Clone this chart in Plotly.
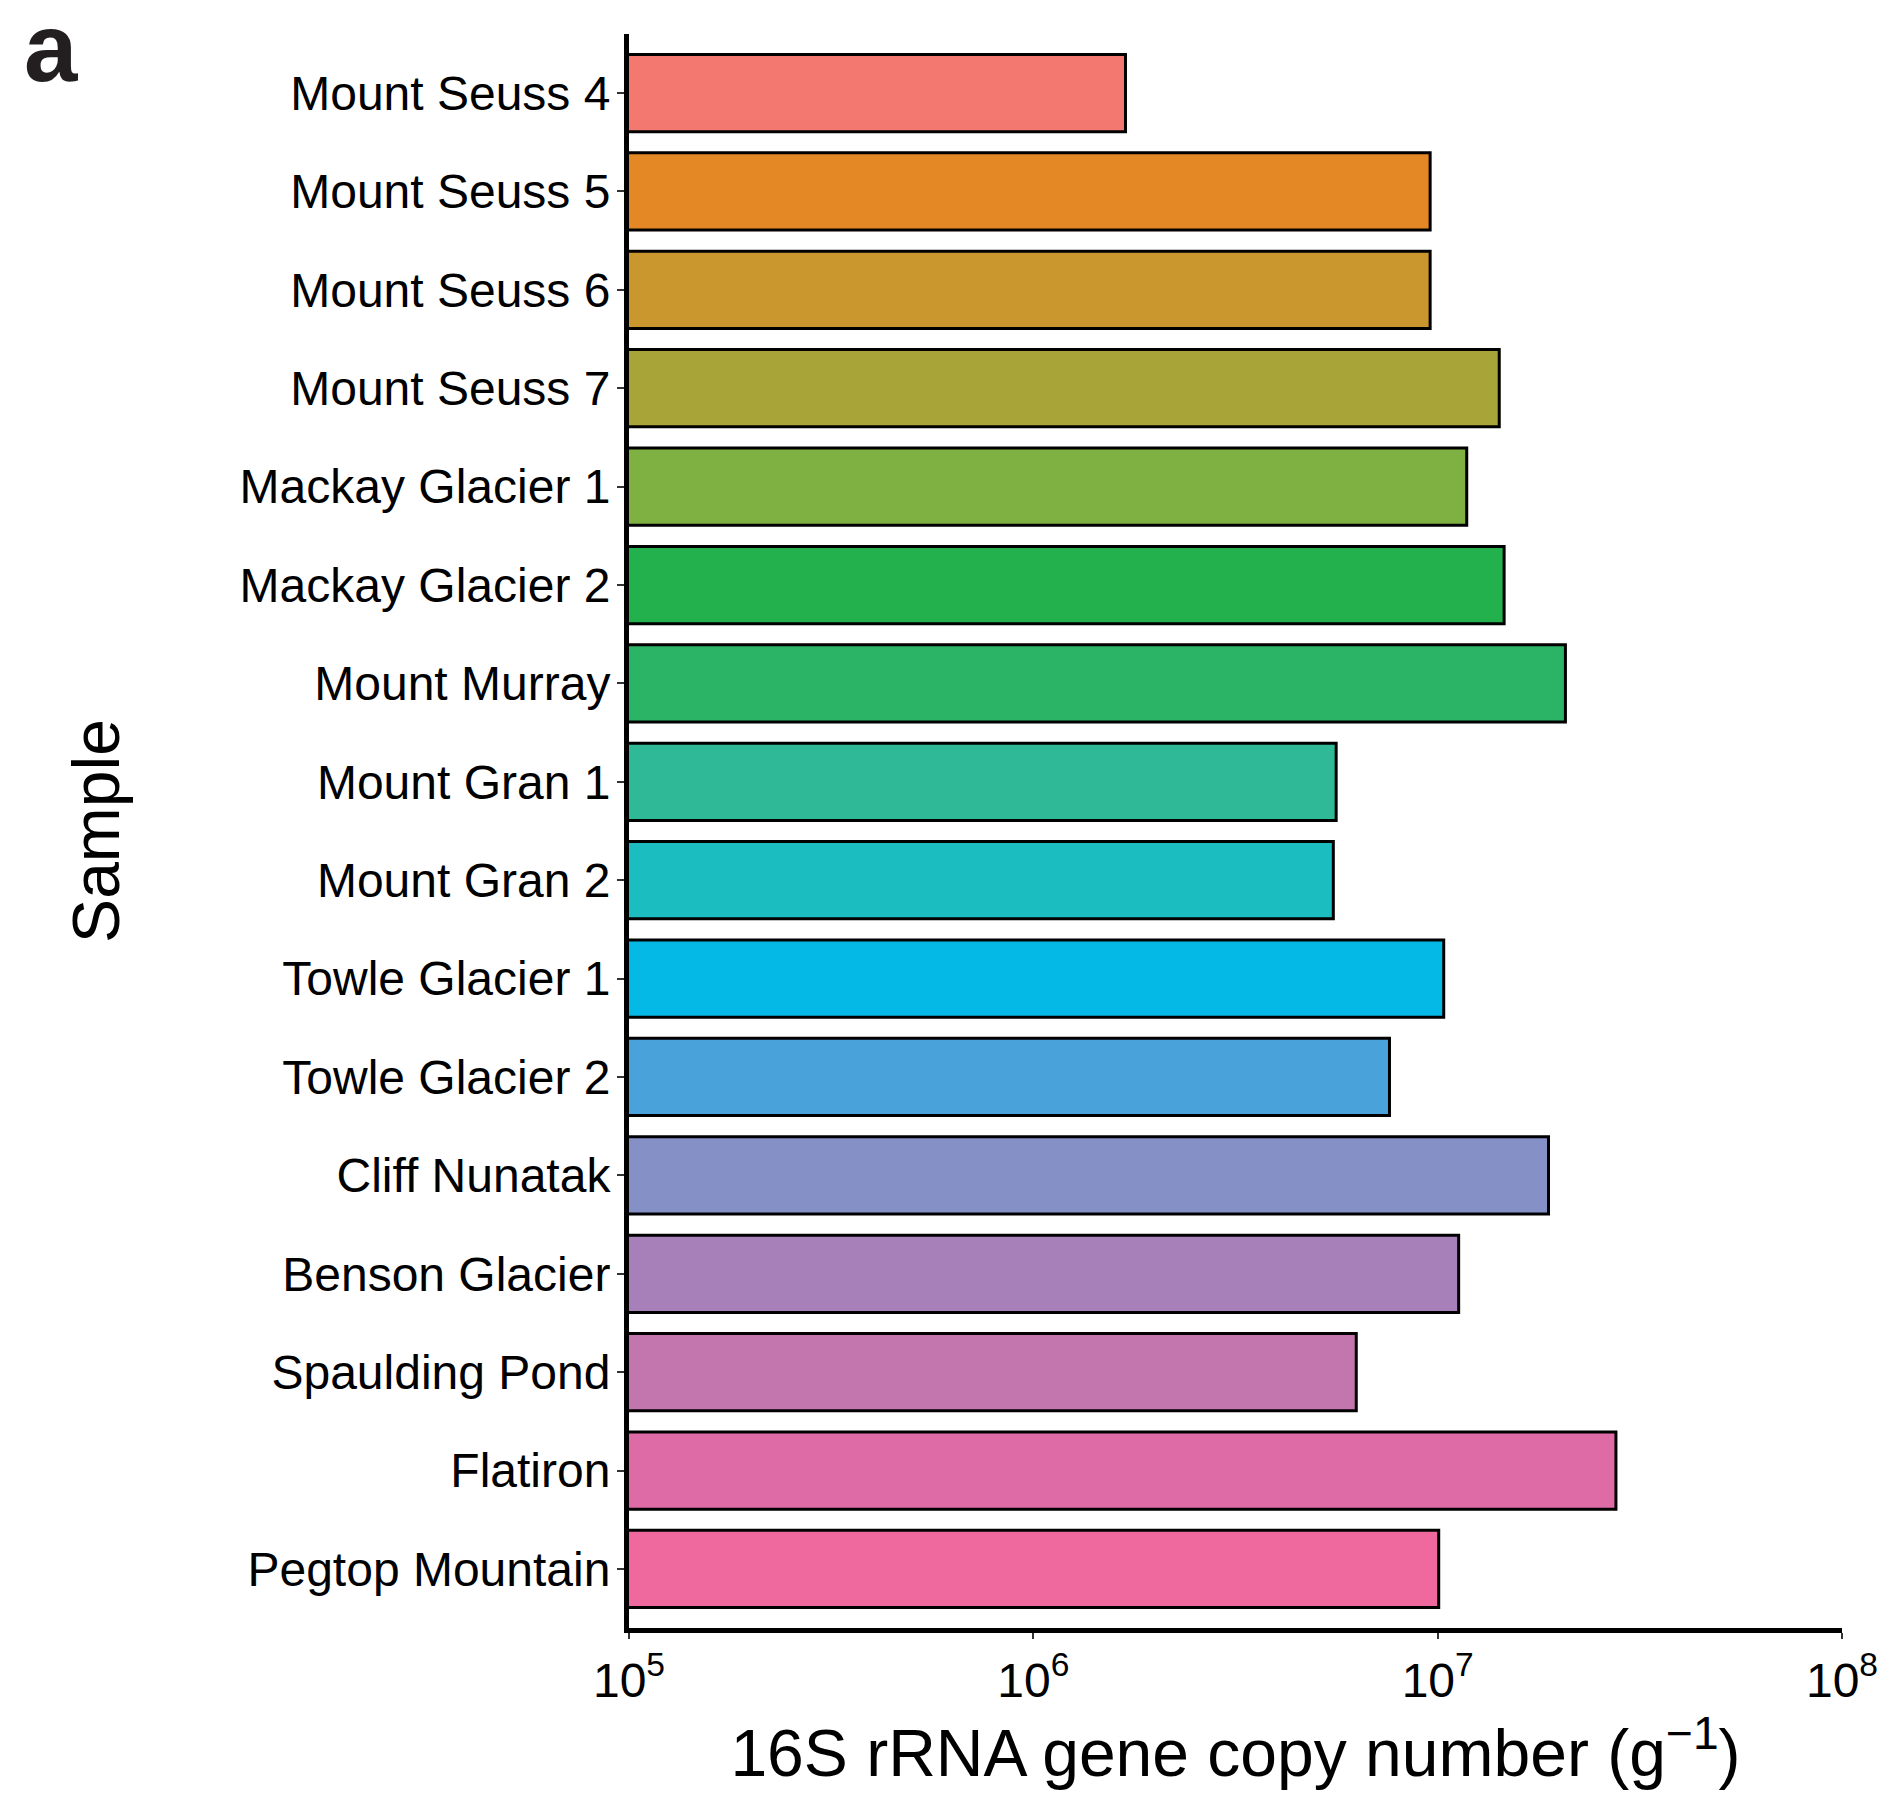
import plotly.graph_objects as go

# Sample sites, top to bottom
samples = [
    "Mount Seuss 4", "Mount Seuss 5", "Mount Seuss 6", "Mount Seuss 7",
    "Mackay Glacier 1", "Mackay Glacier 2", "Mount Murray", "Mount Gran 1",
    "Mount Gran 2", "Towle Glacier 1", "Towle Glacier 2", "Cliff Nunatak",
    "Benson Glacier", "Spaulding Pond", "Flatiron", "Pegtop Mountain",
]

# 16S rRNA gene copies per gram of soil
copy_number = [
    1.69e6, 9.58e6, 9.58e6, 1.42e7,
    1.18e7, 1.46e7, 2.07e7, 5.61e6,
    5.52e6, 1.035e7, 7.60e6, 1.88e7,
    1.127e7, 6.29e6, 2.76e7, 1.006e7,
]

bar_colors = [
    "#F37870", "#E48826", "#CA972E", "#A9A437",
    "#7EB042", "#22B14C", "#2BB366", "#2FB997",
    "#1BBDC1", "#04B9E6", "#49A2DA", "#8590C6",
    "#A780BA", "#C376AE", "#DF6BA6", "#F0699E",
]

x_tickvals = [1e5, 1e6, 1e7, 1e8]
x_ticktext = ["10<sup>5</sup>", "10<sup>6</sup>", "10<sup>7</sup>", "10<sup>8</sup>"]

FONT = "Arial, 'Liberation Sans', Helvetica, sans-serif"

fig = go.Figure(
    go.Bar(
        x=copy_number,
        y=samples,
        orientation="h",
        marker=dict(color=bar_colors, line=dict(color="black", width=3)),
        showlegend=False,
    )
)

fig.update_layout(
    width=1890,
    height=1793,
    margin=dict(l=629, r=46, t=34, b=165),
    paper_bgcolor="white",
    plot_bgcolor="white",
    bargap=0.215,
    font=dict(family=FONT, color="black"),
    xaxis=dict(
        type="log",
        range=[5, 8],
        tickvals=x_tickvals,
        ticktext=x_ticktext,
        tickfont=dict(size=48, color="black"),
        ticks="outside",
        ticklen=6,
        tickwidth=2,
        tickcolor="#333333",
        showline=True,
        linecolor="black",
        linewidth=5,
        showgrid=False,
        zeroline=False,
        title=dict(
            text="16S rRNA gene copy number (g<sup>−1</sup>)",
            font=dict(size=66, color="black"),
            standoff=24,
        ),
    ),
    yaxis=dict(
        type="category",
        categoryorder="array",
        categoryarray=samples,
        range=[15.6, -0.6],
        tickfont=dict(size=48, color="black"),
        ticks="outside",
        ticklen=7,
        tickwidth=2,
        tickcolor="#333333",
        ticklabelstandoff=-3,
        showline=True,
        linecolor="black",
        linewidth=5,
        showgrid=False,
        zeroline=False,
        title=dict(
            text="Sample",
            font=dict(size=66, color="black"),
            standoff=100,
        ),
    ),
    annotations=[
        dict(
            text="<b>a</b>",
            xref="paper",
            yref="paper",
            x=(21 - 629) / 1215,
            y=(1628 + 8) / 1594,
            xanchor="left",
            yanchor="top",
            showarrow=False,
            font=dict(family=FONT, size=96, color="#231F20"),
        )
    ],
)

fig.write_html("out.html")
